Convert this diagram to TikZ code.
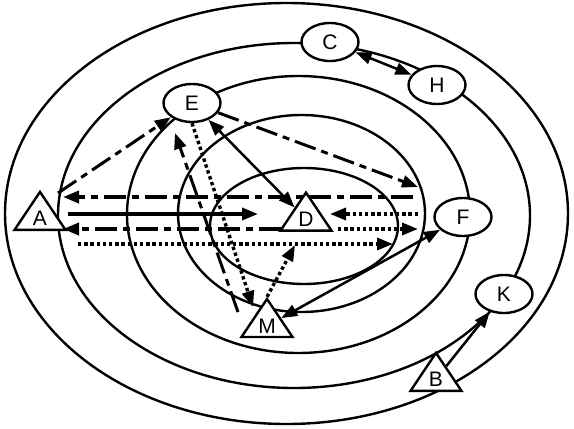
\documentclass[tikz,border=0pt]{standalone}
\usepackage{fontspec}
\setmainfont{Liberation Sans}
\usetikzlibrary{shapes.geometric,arrows.meta}

\begin{document}
\begin{tikzpicture}
[x=1pt,y=-1pt,font=\fontsize{21}{24}\selectfont,
 oval/.style={draw,ellipse,line width=2.4pt,fill=white,inner sep=0pt,
   minimum width=57pt,minimum height=38pt},
 tri/.style={draw,isosceles triangle,isosceles triangle apex angle=68,
   isosceles triangle stretches,shape border rotate=90,fill=white,
   inner sep=0pt,line width=2.4pt,minimum width=51pt,minimum height=38pt},
 ring/.style={line width=2.4pt},
 tip/.style={-{Triangle[length=16pt,width=12pt]}},
 tips/.style={{Triangle[length=16pt,width=12pt]}-{Triangle[length=16pt,width=12pt]}},
 dashdot/.style={dash pattern=on 22pt off 6pt on 7pt off 6pt},
 dots/.style={dash pattern=on 3.4pt off 2.8pt}]
\useasboundingbox (0,0) rectangle (574,429);
% rings
\draw[ring] (286.5,213.5) ellipse [x radius=281.5,y radius=210.5];
\draw[ring] (294,215.5) ellipse [x radius=236,y radius=172.5];
\draw[ring] (298.5,214.5) ellipse [x radius=171.5,y radius=138.5];
\draw[ring] (301.5,213.5) ellipse [x radius=123.5,y radius=98.5];
\draw[ring] (304,226) ellipse [x radius=94,y radius=58];
% nodes
\node[tri] (A) at (40,218) {A};
\node[tri] (D) at (306,219) {D};
\node[tri] (M) at (267,326) {M};
\node[tri] (B) at (436,379) {B};
\node[oval] (E) at (192,103) {E};
\node[oval] (C) at (330,42) {C};
\node[oval] (H) at (437,85) {H};
\node[oval] (F) at (463,217) {F};
\node[oval] (K) at (504,294) {K};
% free ends
\coordinate (ae) at (58,193); \coordinate (ef) at (418,187);
\coordinate (em) at (253,307); \coordinate (me) at (238,312);
\coordinate (eb) at (175,133); \coordinate (md) at (295,245);
\coordinate (r1) at (413,197); \coordinate (l1) at (63,197);
\coordinate (l2) at (68,214); \coordinate (d2) at (258,214);
\coordinate (r3) at (418,214); \coordinate (d3) at (330,214);
\coordinate (d4) at (281,229); \coordinate (l4) at (63,229);
\coordinate (d5) at (338,229); \coordinate (r5) at (418,229);
\coordinate (l6) at (78,244); \coordinate (r6) at (393,244);
% connectors
\draw[dashdot,tip,line width=3pt] (ae) -- (E);
\draw[dashdot,tip,line width=3pt] (E) -- (ef);
\draw[dashdot,tip,line width=3.6pt] (r1) -- (l1);
\draw[tip,line width=3.4pt] (l2) -- (d2);
\draw[dots,tip,line width=3.4pt] (r3) -- (d3);
\draw[dashdot,tip,line width=3.6pt] (d4) -- (l4);
\draw[dots,tip,line width=3.4pt] (d5) -- (r5);
\draw[dots,tip,line width=3.4pt] (l6) -- (r6);
\draw[tips,line width=2.5pt] (E) -- (D);
\draw[dots,tip,line width=3.4pt] (E.south) -- (em);
\draw[dashdot,tip,line width=3pt] (me) -- (eb);
\draw[dots,tip,line width=3.4pt] (M.apex) -- (md);
\draw[tips,line width=2.5pt] (M) -- (F);
\draw[tips,line width=2.5pt] (C) -- (H);
\draw[tip,line width=2.5pt] (B) -- (K);
\end{tikzpicture}
\end{document}
